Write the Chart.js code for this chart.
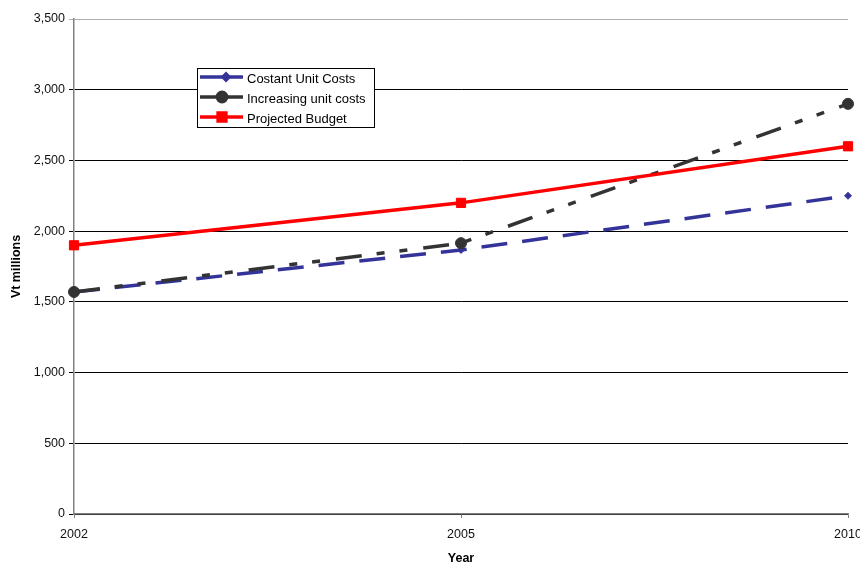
<!DOCTYPE html>
<html>
<head>
<meta charset="utf-8">
<script src="https://cdn.jsdelivr.net/npm/chart.js@4/dist/chart.umd.min.js"></script>
<style>
  html, body { margin: 0; padding: 0; background: #fff; }
  #wrap { width: 860px; height: 566px; }
</style>
</head>
<body>
<div id="wrap"><canvas id="c" width="860" height="566"></canvas></div>
<script>
// Budget projections, Vt millions
const years = ['2002', '2005', '2010'];
const constantUnitCosts = [1570, 1867, 2250];
const increasingUnitCosts = [1570, 1915, 2900];
const projectedBudget = [1900, 2200, 2600];
const yTicks = [0, 500, 1000, 1500, 2000, 2500, 3000, 3500];

const FONT = "'Liberation Sans', Arial, sans-serif";

// Draws one marker of a dataset's style in its colours
function drawMarker(ctx, ds, x, y, scale) {
  ctx.save();
  ctx.fillStyle = ds.backgroundColor;
  ctx.strokeStyle = ds.borderColor;
  ctx.setLineDash([]);
  Chart.helpers.drawPoint(ctx, {
    pointStyle: ds.pointStyle,
    radius: ds.pointRadius * scale,
    borderWidth: 1
  }, x, y);
  ctx.restore();
}

// Boxed legend placed inside the plot area
const boxedLegend = {
  id: 'boxedLegend',
  afterDraw(chart) {
    const ctx = chart.ctx;
    const x0 = 197.5, y0 = 68.5, w = 177, h = 59;
    ctx.save();
    ctx.fillStyle = '#fff';
    ctx.fillRect(x0, y0, w, h);
    ctx.strokeStyle = '#000';
    ctx.lineWidth = 1;
    ctx.strokeRect(x0, y0, w, h);
    chart.data.datasets.forEach((ds, i) => {
      const cy = 77 + i * 20;
      ctx.beginPath();
      ctx.setLineDash([]);
      ctx.strokeStyle = ds.borderColor;
      ctx.lineWidth = 3.5;
      ctx.moveTo(200, cy);
      ctx.lineTo(243, cy);
      ctx.stroke();
      drawMarker(ctx, ds, i === 0 ? 226 : 222, cy, 0.85);
      ctx.fillStyle = '#000';
      ctx.font = '13px ' + FONT;
      ctx.textBaseline = 'middle';
      ctx.textAlign = 'left';
      ctx.fillText(ds.label, 247, cy + 2);
    });
    ctx.restore();
  }
};

new Chart(document.getElementById('c'), {
  type: 'line',
  data: {
    labels: years,
    datasets: [
      {
        label: 'Costant Unit Costs',
        data: constantUnitCosts,
        borderColor: '#333399',
        backgroundColor: '#333399',
        borderWidth: 3.5,
        borderDash: [26, 15],
        pointStyle: 'rectRot',
        pointRadius: 3.5,
        pointBorderWidth: 1,
        order: 2
      },
      {
        label: 'Increasing unit costs',
        data: increasingUnitCosts,
        borderColor: '#333333',
        backgroundColor: '#333333',
        borderWidth: 3.5,
        borderDash: [26, 15, 8, 15, 8, 16],
        pointStyle: 'circle',
        pointRadius: 5.5,
        pointBorderWidth: 1,
        order: 1
      },
      {
        label: 'Projected Budget',
        data: projectedBudget,
        borderColor: '#ff0000',
        backgroundColor: '#ff0000',
        borderWidth: 3.5,
        pointStyle: 'rect',
        pointRadius: 6.5,
        pointBorderWidth: 1,
        order: 0
      }
    ]
  },
  options: {
    responsive: false,
    animation: false,
    layout: { padding: { left: 0, top: 19, right: 12, bottom: 0 } },
    plugins: {
      legend: { display: false },
      tooltip: { enabled: false }
    },
    scales: {
      x: {
        offset: false,
        grid: {
          drawOnChartArea: false,
          drawTicks: true,
          tickLength: 4,
          color: '#808080'
        },
        border: { color: '#808080', width: 1.5 },
        ticks: {
          color: '#111',
          font: { family: FONT, size: 12.5 },
          padding: 9,
          maxRotation: 0
        },
        title: {
          display: true,
          text: 'Year',
          color: '#000',
          font: { family: FONT, size: 12.5, weight: 'bold' },
          padding: { top: 4, bottom: 0 }
        },
        afterFit(scale) {
          scale.height = 52;
          scale.paddingLeft = 0;
          scale.paddingRight = 0;
        }
      },
      y: {
        min: 0,
        max: 3500,
        afterBuildTicks(scale) {
          scale.ticks = yTicks.map(v => ({ value: v }));
        },
        grid: {
          color: ctx => (ctx.tick && ctx.tick.value === 3500 ? '#b0b0b0' : '#000'),
          lineWidth: 1,
          drawTicks: true,
          tickLength: 5
        },
        border: { color: '#808080', width: 1.5 },
        ticks: {
          color: '#111',
          font: { family: FONT, size: 12.5 },
          padding: 4,
          callback: v => v.toLocaleString('en-US')
        },
        title: {
          display: true,
          text: 'Vt millions',
          color: '#000',
          font: { family: FONT, size: 12.5, weight: 'bold' },
          padding: { top: 9, bottom: 4 }
        },
        afterFit(scale) {
          scale.width = 74;
          scale.paddingTop = 0;
          scale.paddingBottom = 0;
        }
      }
    }
  },
  plugins: [boxedLegend]
});
</script>
</body>
</html>
